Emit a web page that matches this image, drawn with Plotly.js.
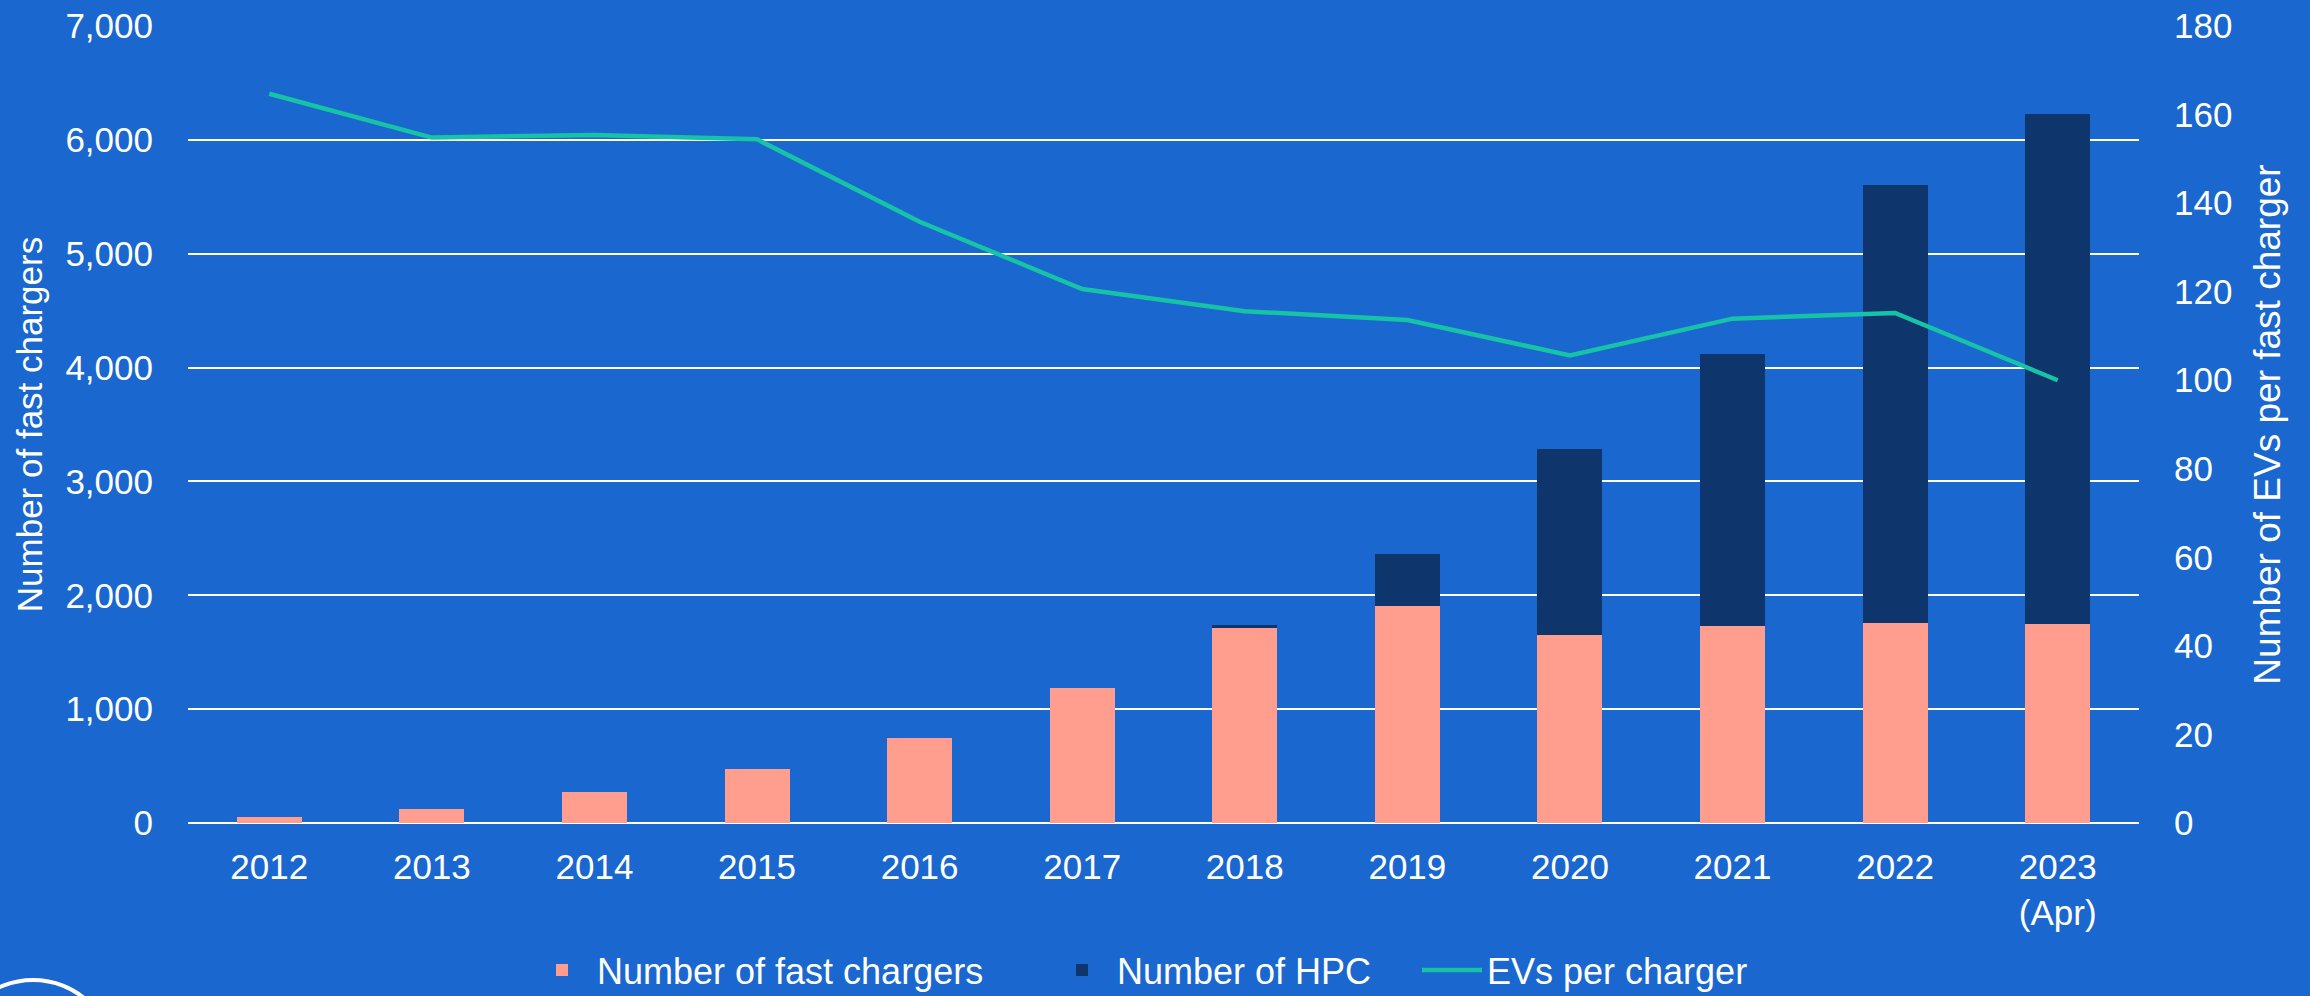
<!DOCTYPE html>
<html>
<head>
<meta charset="utf-8">
<script src="https://cdn.plot.ly/plotly-3.0.1.min.js"></script>
<style>
  html, body { margin: 0; padding: 0; background: #1a67cf; }
  #chart { width: 2310px; height: 996px; }
</style>
</head>
<body>
<div id="chart"></div>
<script>
const years = ['2012', '2013', '2014', '2015', '2016', '2017', '2018', '2019', '2020', '2021', '2022', '2023<br>(Apr)']
const fastChargers = [55, 125, 270, 470, 750, 1185, 1710, 1910, 1655, 1730, 1757, 1745]
const hpc = [0, 0, 0, 0, 0, 0, 25, 452, 1630, 2392, 3850, 4482]
const evsPerCharger = [164.7, 154.8, 155.4, 154.4, 135.8, 120.6, 115.6, 113.6, 105.6, 113.9, 115.2, 100.0]

const bg = '#1a67cf'
const tickFont = { family: 'Liberation Sans, Arial, sans-serif', size: 35, color: '#ffffff' }
const titleFont = { family: 'Liberation Sans, Arial, sans-serif', size: 35, color: '#ffffff' }
const legendFont = { family: 'Liberation Sans, Arial, sans-serif', size: 36, color: '#ffffff' }

// one legend box per series so each entry sits where it does in the original
function legendBox(x) {
    return {
        orientation: 'h',
        xref: 'paper',
        x: x,
        xanchor: 'left',
        yref: 'container',
        y: 0.026,
        yanchor: 'middle',
        font: legendFont,
        itemwidth: 60,
        bgcolor: 'rgba(0,0,0,0)',
    }
}

const traces = [
    {
        x: years,
        y: fastChargers,
        type: 'bar',
        name: 'Number of fast chargers',
        marker: { color: '#ff9e8e' },
        legend: 'legend',
        hoverinfo: 'skip',
    },
    {
        x: years,
        y: hpc,
        type: 'bar',
        name: 'Number of HPC',
        marker: { color: '#0e356c' },
        legend: 'legend2',
        hoverinfo: 'skip',
    },
    {
        x: years,
        y: evsPerCharger,
        type: 'scatter',
        mode: 'lines',
        name: 'EVs per charger',
        yaxis: 'y2',
        line: { color: '#17c3a6', width: 4.5 },
        legend: 'legend3',
        hoverinfo: 'skip',
    },
]

const layout = {
    width: 2310,
    height: 996,
    paper_bgcolor: bg,
    plot_bgcolor: bg,
    barmode: 'stack',
    bargap: 0.6,
    margin: { l: 188, r: 171, t: 26, b: 173 },
    showlegend: true,
    legend: legendBox((567 - 40 - 188) / 1951),
    legend2: legendBox((1087 - 40 - 188) / 1951),
    legend3: legendBox((1457 - 40 - 188) / 1951),
    xaxis: {
        type: 'category',
        automargin: false,
        tickfont: tickFont,
        showgrid: false,
        zeroline: false,
        showline: false,
        ticks: '',
        ticklabelstandoff: 20,
    },
    yaxis: {
        range: [0, 7000],
        dtick: 1000,
        tickformat: ',d',
        automargin: 'left',
        tickfont: tickFont,
        gridcolor: '#ffffff',
        gridwidth: 2,
        zeroline: true,
        zerolinecolor: '#ffffff',
        zerolinewidth: 2,
        ticks: '',
        ticklabelstandoff: 34,
        title: { text: 'Number of fast chargers', font: titleFont, standoff: 12 },
    },
    yaxis2: {
        overlaying: 'y',
        side: 'right',
        range: [0, 180],
        dtick: 20,
        automargin: false,
        tickfont: tickFont,
        showgrid: false,
        zeroline: false,
        ticks: '',
        ticklabelstandoff: 34,
        title: { text: 'Number of EVs per fast charger', font: { ...titleFont, size: 37 }, standoff: 22 },
    },
    shapes: [
        {
            type: 'circle',
            xref: 'paper',
            yref: 'paper',
            x0: -0.1209,
            x1: -0.0379,
            y0: -0.4002,
            y1: -0.197,
            line: { color: '#ffffff', width: 4 },
        },
    ],
}

Plotly.newPlot('chart', traces, layout, { displayModeBar: false, staticPlot: true })
</script>
</body>
</html>
